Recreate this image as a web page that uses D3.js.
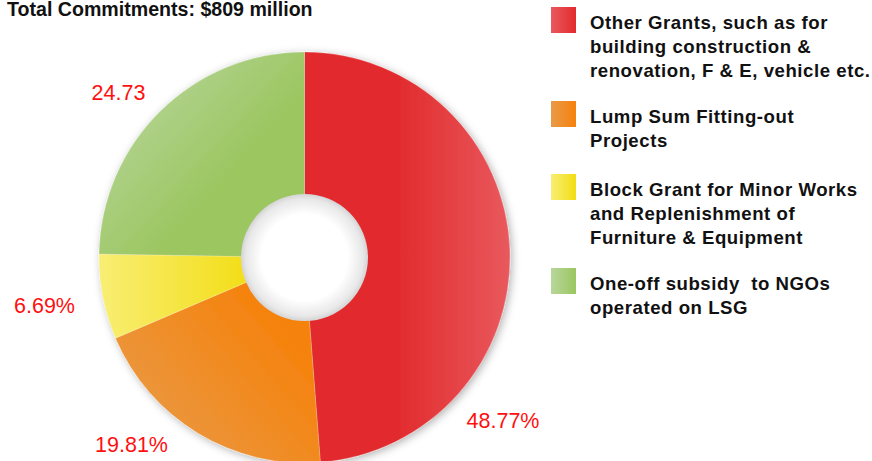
<!DOCTYPE html>
<html><head><meta charset="utf-8">
<script src="https://cdn.jsdelivr.net/npm/d3@7"></script>
<style>html,body{margin:0;padding:0;background:#fff;overflow:hidden}</style>
</head><body>
<svg id="c" width="872" height="461"></svg>
<script>
const categories = [
  "Other Grants, such as for|building construction &|renovation, F & E, vehicle etc.",
  "Lump Sum Fitting-out|Projects",
  "Block Grant for Minor Works|and Replenishment of|Furniture & Equipment",
  "One-off subsidy  to NGOs|operated on LSG"
];
const values = [48.77, 19.81, 6.69, 24.73];
const valueLabels = ["48.77%", "19.81%", "6.69%", "24.73"];
const title = "Total Commitments: $809 million";

(function () {
const svg = d3.select("#c");
const defs = svg.append("defs");
const cx = 304.5, cy = 257.5, R = 205.5, r0 = 63.5;

const grads = [
  ["#e8595d", "#e22b2d", 1, 0, 0.45, 0],
  ["#e99a47", "#f5820c", 0.05, 0.85, 0.75, 0.25],
  ["#f8ee74", "#f3dd14", 0, 0, 0.75, 0],
  ["#b8d69c", "#9bc660", 0.1, 0.1, 0.65, 0.6]
];
grads.forEach((g, i) => {
  const lg = defs.append("linearGradient").attr("id", "g" + i)
    .attr("x1", g[2]).attr("y1", g[3]).attr("x2", g[4]).attr("y2", g[5]);
  lg.append("stop").attr("offset", 0).attr("stop-color", g[0]);
  lg.append("stop").attr("offset", 1).attr("stop-color", g[1]);
  const lg2 = defs.append("linearGradient").attr("id", "lg" + i)
    .attr("x1", 0).attr("y1", 0).attr("x2", 1).attr("y2", 0);
  lg2.append("stop").attr("offset", 0).attr("stop-color", g[0]);
  lg2.append("stop").attr("offset", 1).attr("stop-color", g[1]);
});
const f = defs.append("filter").attr("id", "sh").attr("x", -0.2).attr("y", -0.2).attr("width", 1.4).attr("height", 1.4);
f.append("feDropShadow").attr("dx", 2).attr("dy", 2).attr("stdDeviation", 4)
  .attr("flood-color", "#000").attr("flood-opacity", 0.3);
const rg = defs.append("radialGradient").attr("id", "hole");
rg.append("stop").attr("offset", 0.68).attr("stop-color", "#ffffff");
rg.append("stop").attr("offset", 0.92).attr("stop-color", "#e8e8e8");
rg.append("stop").attr("offset", 1).attr("stop-color", "#d4d4d4");

const pie = d3.pie().sort(null).value(d => d)(values);
const arc = d3.arc().innerRadius(0).outerRadius(R);
const g = svg.append("g").attr("transform", `translate(${cx},${cy})`);
const pg = g.append("g").attr("filter", "url(#sh)");
pg.selectAll("path").data(pie).join("path")
  .attr("d", arc)
  .attr("fill", (d, i) => `url(#g${i})`)
  .attr("stroke", "rgba(255,255,255,0.35)").attr("stroke-width", 0.6);
g.append("circle").attr("r", r0).attr("fill", "url(#hole)");

const labelOffsets = [[198.5, 170], [-173, 194], [-260, 55], [-186, -158]];
g.selectAll("text.v").data(pie).join("text").attr("class", "v")
  .attr("x", (d, i) => labelOffsets[i][0])
  .attr("y", (d, i) => labelOffsets[i][1])
  .attr("text-anchor", "middle")
  .attr("font-family", "Liberation Sans, Arial, sans-serif")
  .attr("font-size", 21.5).attr("fill", "#ff1010")
  .text((d, i) => valueLabels[i]);

svg.append("text").attr("x", 7).attr("y", 16)
  .attr("font-family", "Liberation Sans, Arial, sans-serif")
  .attr("font-weight", "bold").attr("font-size", 19.6).attr("fill", "#111")
  .text(title);

const lgd = svg.append("g");
let legTop = 7;
categories.forEach((c, i) => {
  const lines = c.split("|");
  lgd.append("rect").attr("x", 551).attr("y", legTop).attr("width", 25).attr("height", 26)
    .attr("fill", `url(#lg${i})`);
  const t = lgd.append("text").attr("font-family", "Liberation Sans, Arial, sans-serif")
    .attr("font-weight", "bold").attr("font-size", 18.6).attr("fill", "#111")
    .attr("letter-spacing", 0.55).style("white-space", "pre");
  lines.forEach((l, j) => {
    t.append("tspan").attr("x", 590).attr("y", legTop + 22 + j * 24).text(l);
  });
  legTop += lines.length * 24 + 22 + (lines.length === 3 ? 0 : 3);
});
})();
</script>
</body></html>
